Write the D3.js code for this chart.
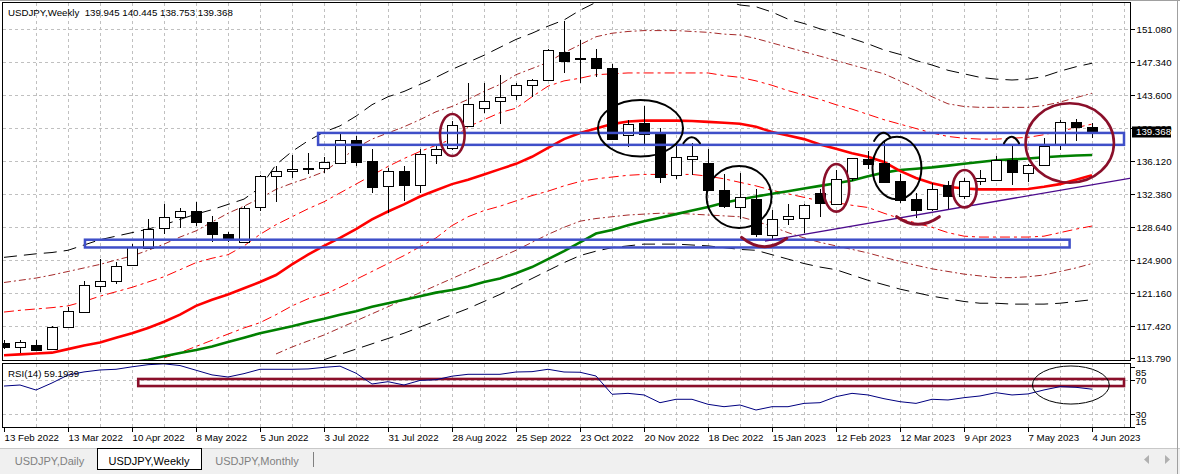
<!DOCTYPE html>
<html>
<head>
<meta charset="utf-8">
<script src="https://cdn.jsdelivr.net/npm/d3@7"></script>
<style>
body { margin: 0; background: #fff; }
text { font-family: "Liberation Sans", Arial, sans-serif; font-size: 9.7px; fill: #000; }
.tab { font-size: 11px; }
</style>
</head>
<body>
<svg id="chart" width="1180" height="474"></svg>
<script>
// weekly bars, 13 Feb 2022 .. 4 Jun 2023
var openP = [115.5,115.0,115.3,114.85,117.3,119.07,122.0,122.57,124.3,126.3,
  128.5,129.75,130.5,129.24,127.9,126.98,130.85,134.4,135.0,135.3,
  135.35,135.9,138.5,136.1,133.35,135.0,133.4,136.85,137.6,140.05,
  142.12,142.9,143.6,144.7,145.28,148.52,147.8,147.77,146.7,139.07,
  140.38,139.3,134.5,136.4,135.9,132.86,130.96,131.87,127.77,129.5,
  129.73,132.5,131.27,134.2,136.38,135.94,133.87,131.87,130.6,133.42,
  132.1,133.8,134.02,136.2,134.8,135.6,138.1,140.54,139.945];
var highP = [115.8,115.8,115.8,117.4,119.6,122.5,125.06,124.7,126.7,129.5,
  131.3,130.8,131.5,129.9,128.1,131.0,134.55,135.6,136.8,137.0,
  136.6,139.2,138.9,137.5,135.3,135.6,137.5,137.8,140.7,144.95,
  144.95,145.9,144.95,145.4,148.8,151.98,149.8,148.8,147.1,140.8,
  142.3,139.86,137.9,138.2,137.5,134.6,134.8,132.9,130.6,131.2,
  131.2,132.9,135.15,136.5,137.2,138.5,134.6,132.5,133.6,133.8,
  134.15,135.15,136.65,137.8,135.8,138.75,140.8,140.9,140.445];
var lowP = [114.8,114.4,114.65,114.8,117.3,119.0,121.3,122.2,124.2,126.3,
  127.8,128.5,128.7,126.98,126.98,126.9,130.4,131.5,134.2,134.7,
  134.8,135.9,135.5,132.5,130.25,131.6,132.5,135.8,137.4,140.0,
  141.56,140.3,143.06,143.4,145.2,146.07,145.0,145.6,138.5,137.67,
  138.1,133.6,134.1,134.5,132.7,130.8,129.5,127.5,127.2,128.9,
  128.0,129.8,131.2,133.8,135.25,133.7,131.4,129.7,130.5,130.7,
  131.8,133.35,133.9,133.45,133.7,135.5,137.4,138.35,138.753];
var closeP = [115.1,115.56,114.75,117.35,119.07,122.1,122.57,124.26,126.34,128.45,
  129.75,130.47,129.24,127.87,127.4,130.82,134.4,135.0,135.2,135.15,
  136.0,138.5,136.0,133.15,135.0,133.4,136.9,137.5,140.2,142.57,
  142.91,143.37,144.7,145.3,148.67,147.5,147.7,146.6,138.65,140.31,
  139.14,134.3,136.55,136.7,132.86,131.0,132.06,127.88,129.58,129.87,
  131.16,131.4,134.1,136.46,135.78,133.83,131.76,130.63,132.9,132.13,
  133.8,134.15,136.25,134.8,135.68,137.78,140.54,139.93,139.368];

// moving averages
var maRed = [114.1,114.2,114.3,114.4,114.8,115.2,115.55,116.1,116.6,117.2,
  117.9,118.7,119.7,120.4,121.0,121.7,122.4,123.2,124.4,125.5,
  126.5,127.4,128.4,129.5,130.4,131.2,132.1,132.8,133.5,134.0,
  134.6,135.2,135.8,136.6,137.6,138.6,139.3,139.8,140.3,140.6,
  140.7,140.7,140.7,140.65,140.55,140.45,140.35,140.0,139.4,139.0,
  138.6,138.0,137.5,137.0,136.6,136.0,135.0,134.2,133.6,133.2,
  133.0,132.9,132.9,132.9,132.95,133.2,133.5,134.0,134.5];
var maGreen = [null,null,null,null,null,null,null,113.0,113.3,113.6,
  114.0,114.35,114.7,115.1,115.6,116.1,116.6,117.0,117.4,117.85,
  118.25,118.7,119.1,119.6,120.0,120.4,120.8,121.2,121.5,121.9,
  122.4,122.8,123.4,124.1,125.0,125.9,126.9,127.9,128.3,128.85,
  129.3,129.7,130.1,130.5,130.9,131.4,131.75,132.1,132.4,132.7,
  133.0,133.3,133.6,133.9,134.4,134.8,135.1,135.25,135.4,135.6,
  135.8,136.0,136.2,136.3,136.4,136.55,136.65,136.75,136.8];

// envelope bands
var bandUp3 = [125.2,125.4,125.6,125.75,126.0,126.6,127.2,127.6,128.0,128.4,
  128.9,129.5,130.1,130.6,131.2,131.8,133.1,135.7,137.2,138.4,
  139.4,140.1,141.2,142.5,143.4,144.0,144.8,145.6,146.5,147.3,
  148.1,149.0,149.9,150.6,151.4,152.1,153.2,154.1,154.8,155.2,
  155.4,155.5,155.4,155.1,154.7,154.3,153.8,153.6,153.0,152.2,
  151.7,151.1,150.6,150.0,149.4,148.7,148.2,147.5,147.0,146.4,
  146.0,145.6,145.4,145.3,145.4,145.7,146.3,146.8,147.2];
var bandUp2 = [122.35,122.6,122.85,123.2,123.6,124.0,124.4,124.9,125.35,126.0,
  126.7,127.5,128.2,129.2,130.2,131.0,131.9,132.9,133.6,134.2,
  134.9,136.2,137.6,138.6,139.3,140.0,140.8,141.7,142.3,143.1,
  144.0,144.8,145.9,146.6,147.3,148.4,149.3,150.2,150.6,150.8,
  150.9,150.9,150.9,150.8,150.7,150.5,150.4,150.0,149.5,149.0,
  148.5,148.0,147.5,147.0,146.5,146.0,145.2,144.4,143.4,142.6,
  142.3,142.2,142.2,142.2,142.2,142.4,142.8,143.3,143.8];
var bandUp1 = [119.0,119.2,119.35,119.5,119.7,120.2,120.8,121.3,121.8,122.4,
  123.0,123.8,124.6,125.1,125.5,126.5,127.8,128.9,129.8,130.7,
  131.5,132.5,133.5,134.5,135.5,136.4,137.2,137.9,138.6,140.0,
  140.8,141.6,142.1,143.4,144.6,145.2,145.5,145.9,146.0,146.1,
  146.1,146.1,146.1,146.1,146.1,145.8,145.6,145.2,144.7,144.1,
  143.6,143.1,142.5,142.0,141.4,140.8,140.3,139.8,139.3,138.9,
  138.7,138.6,138.6,138.7,138.8,139.1,139.5,139.9,140.3];
var bandLo1 = [null,null,null,null,null,null,null,null,null,null,
  113.8,114.4,115.1,115.8,116.5,117.2,117.8,118.7,119.7,120.5,
  121.0,121.8,122.7,123.6,124.5,125.4,126.4,127.4,128.8,129.8,
  130.5,131.0,131.6,132.2,132.7,133.3,133.8,134.1,134.3,134.5,
  134.6,134.6,134.6,134.6,134.4,134.1,133.7,133.3,132.8,132.4,
  132.0,131.6,131.4,131.1,130.85,130.2,129.6,129.1,128.6,128.0,
  127.6,127.5,127.5,127.5,127.5,127.6,128.0,128.4,128.75];
var bandLo2 = [null,null,null,null,null,null,null,null,null,null,
  null,null,null,null,null,null,null,114.25,115.04,115.72,
  116.4,117.2,118.0,118.8,119.6,120.4,121.2,122.0,122.8,123.6,
  124.4,125.2,126.0,126.9,127.8,128.6,129.3,129.6,129.8,130.0,
  130.1,130.2,130.2,130.1,130.0,129.9,129.8,129.3,128.7,128.0,
  127.4,126.9,126.5,126.1,125.7,125.2,124.75,124.3,123.9,123.6,
  123.3,123.1,122.9,122.9,123.0,123.2,123.6,124.0,124.5];
var bandLo3 = [null,null,null,null,null,null,null,null,null,null,
  null,null,null,null,null,null,null,null,null,null,
  113.6,114.2,114.8,115.4,116.0,116.6,117.3,118.0,118.7,119.4,
  120.2,121.0,121.9,122.8,123.7,124.6,125.4,125.9,126.3,126.5,
  126.7,126.7,126.7,126.6,126.5,126.3,126.1,126.0,125.5,125.0,
  124.5,124.1,123.8,123.2,122.6,122.1,121.6,121.2,120.8,120.5,
  120.2,120.0,120.0,119.9,119.9,119.9,120.0,120.2,120.4];

// RSI(14)
var rsiVals = [62.9,64.1,58.2,66.5,75.9,79.5,81.8,82.6,85.5,88,
  89,87,81.5,76,73.5,77.5,82.6,82.6,82.6,83,
  84.9,86.3,78,65.3,68,64.1,69.5,70.3,74.5,76.7,
  76.7,76.7,79.4,79.8,82.6,79.4,79.1,74.7,53.2,54.3,
  52.4,43.3,47.3,47.3,41.4,38.6,40.6,34.7,38.6,38.6,
  42.5,43.3,50.4,54.3,52.4,48,44.5,42.5,47.3,46.5,
  49.2,51.2,55.1,52.4,53.6,58.3,62.2,61.4,59.19];

var dateLabels = ["13 Feb 2022","13 Mar 2022","10 Apr 2022","8 May 2022","5 Jun 2022",
  "3 Jul 2022","31 Jul 2022","28 Aug 2022","25 Sep 2022","23 Oct 2022","20 Nov 2022",
  "18 Dec 2022","15 Jan 2023","12 Feb 2023","12 Mar 2023","9 Apr 2023","7 May 2023","4 Jun 2023"];
var priceTicks = [151.08,147.34,143.60,139.86,136.12,132.38,128.64,124.90,121.16,117.42,113.79];
var rsiTicks = [85,70,30,15];
var lastPrice = 139.368;

// hand drawn objects (bar index / price coordinates)
var zones = [
  {i0: 19.63, i1: 70, p0: 139.3, p1: 137.95},
  {i0: 5.06, i1: 66.6, p0: 127.2, p1: 126.32}
];
var rings = [
  {i: 28.02, p: 139.07, ri: 0.77, rp: 2.38, c: "#8a0f2a", w: 2.6},
  {i: 39.78, p: 139.83, ri: 2.66, rp: 3.21, c: "#000", w: 2},
  {i: 45.94, p: 132.04, ri: 2.03, rp: 3.51, c: "#000", w: 2},
  {i: 52.02, p: 133.08, ri: 0.81, rp: 2.7, c: "#8a0f2a", w: 2.6},
  {i: 55.81, p: 135.33, ri: 1.53, rp: 3.55, c: "#000", w: 2},
  {i: 60.04, p: 132.98, ri: 0.75, rp: 2.12, c: "#8a0f2a", w: 2.6},
  {i: 66.61, p: 138.16, ri: 2.76, rp: 4.5, c: "#8a0f2a", w: 2.6}
];
var arcs = [
  {i0: 42.46, i1: 43.5, p0: 138.13, p1: 138.13, pk: 138.81, c: "#000", w: 2},
  {i0: 54.38, i1: 55.38, p0: 138.39, p1: 138.84, pk: 139.29, c: "#000", w: 2},
  {i0: 62.5, i1: 63.44, p0: 138.13, p1: 138.13, pk: 138.88, c: "#000", w: 2},
  {i0: 46.1, i1: 48.92, p0: 127.47, p1: 127.36, pk: 126.41, c: "#8a0f2a", w: 3},
  {i0: 55.79, i1: 58.46, p0: 129.81, p1: 129.81, pk: 128.95, c: "#8a0f2a", w: 3}
];
var trend = {i0: 47.56, p0: 127.05, i1: 70.44, p1: 134.19};
var rsiZone = {i0: 8.39, i1: 70, v0: 71.2, v1: 62.9};
var rsiRing = {i: 66.68, v: 64.1, ri: 2.4, rv: 22.4};

var svg = d3.select("#chart");
var plotL = 3, plotR = 1131, mainT = 3, mainB = 361, rsiT = 364, rsiB = 428;

var x = d3.scaleLinear().domain([0, 68]).range([4, 1092]);
var y = d3.scaleLinear().domain([117.42, 151.08]).range([326, 29]);
var yr = d3.scaleLinear().domain([30, 70]).range([414, 380]);

svg.append("rect").attr("width", 1180).attr("height", 474).attr("fill", "#fff");

var defs = svg.append("defs");
defs.append("clipPath").attr("id", "clipMain").append("rect")
  .attr("x", plotL).attr("y", mainT).attr("width", plotR - plotL).attr("height", mainB - mainT);
defs.append("clipPath").attr("id", "clipRsi").append("rect")
  .attr("x", plotL).attr("y", rsiT).attr("width", plotR - plotL).attr("height", rsiB - rsiT);

// grid
var gridX = d3.range(2, 71, 2);
function grid(g, top, bottom, levels, sc) {
  g.selectAll(".vg").data(gridX).join("line")
    .attr("x1", function(d) { return Math.round(x(d)) + 0.5; })
    .attr("x2", function(d) { return Math.round(x(d)) + 0.5; })
    .attr("y1", top).attr("y2", bottom);
  g.selectAll(".hg").data(levels).join("line").attr("class", "hg")
    .attr("x1", plotL).attr("x2", plotR)
    .attr("y1", function(d) { return Math.round(sc(d)) + 0.5; })
    .attr("y2", function(d) { return Math.round(sc(d)) + 0.5; });
  g.selectAll("line").attr("stroke", "#c0c0c0").attr("stroke-dasharray", "3,3")
    .attr("shape-rendering", "crispEdges");
}
grid(svg.append("g"), mainT, mainB, priceTicks.slice(0, 10), y);
grid(svg.append("g"), rsiT, rsiB, [70, 30], yr);

var main = svg.append("g").attr("clip-path", "url(#clipMain)");

function series(vals) {
  return d3.line()
    .defined(function(d) { return d != null; })
    .x(function(d, i) { return x(i); })
    .y(function(d) { return y(d); })(vals);
}

var bands = [
  {v: bandUp3, c: "#000", dash: "13,7"},
  {v: bandLo3, c: "#000", dash: "13,7"},
  {v: bandUp2, c: "#a52a2a", dash: "7,3,2,3"},
  {v: bandLo2, c: "#a52a2a", dash: "7,3,2,3"},
  {v: bandUp1, c: "#ff0000", dash: "10,4,3,4"},
  {v: bandLo1, c: "#ff0000", dash: "10,4,3,4"}
];
main.selectAll(".band").data(bands).join("path")
  .attr("d", function(d) { return series(d.v); })
  .attr("fill", "none").attr("stroke", function(d) { return d.c; })
  .attr("stroke-width", 1).attr("stroke-dasharray", function(d) { return d.dash; });

main.append("path").attr("d", series(maGreen)).attr("fill", "none")
  .attr("stroke", "#008000").attr("stroke-width", 2.6);
main.append("path").attr("d", series(maRed)).attr("fill", "none")
  .attr("stroke", "#ff0000").attr("stroke-width", 2.6);

// candles
var bars = d3.range(openP.length);
var cg = main.append("g").attr("shape-rendering", "crispEdges");
cg.selectAll("line").data(bars).join("line")
  .attr("x1", function(i) { return Math.round(x(i)) + 0.5; })
  .attr("x2", function(i) { return Math.round(x(i)) + 0.5; })
  .attr("y1", function(i) { return y(highP[i]); })
  .attr("y2", function(i) { return y(lowP[i]); })
  .attr("stroke", "#000");
cg.selectAll("rect").data(bars).join("rect")
  .attr("x", function(i) { return Math.round(x(i)) - 5 + 0.5; })
  .attr("width", 10)
  .attr("y", function(i) { return Math.round(y(Math.max(openP[i], closeP[i]))) + 0.5; })
  .attr("height", function(i) { return Math.max(1, Math.round(Math.abs(y(openP[i]) - y(closeP[i])))); })
  .attr("fill", function(i) { return closeP[i] >= openP[i] ? "#fff" : "#000"; })
  .attr("stroke", "#000");

// objects
main.selectAll(".zone").data(zones).join("rect")
  .attr("x", function(d) { return x(d.i0); })
  .attr("width", function(d) { return x(d.i1) - x(d.i0); })
  .attr("y", function(d) { return y(d.p0); })
  .attr("height", function(d) { return y(d.p1) - y(d.p0); })
  .attr("fill", "none").attr("stroke", "#3f4fc8").attr("stroke-width", 2.5);

main.append("line")
  .attr("x1", x(trend.i0)).attr("y1", y(trend.p0))
  .attr("x2", x(trend.i1)).attr("y2", y(trend.p1))
  .attr("stroke", "#4b0a8c").attr("stroke-width", 1.3);

main.selectAll(".ring").data(rings).join("ellipse")
  .attr("cx", function(d) { return x(d.i); })
  .attr("cy", function(d) { return y(d.p); })
  .attr("rx", function(d) { return x(d.i + d.ri) - x(d.i); })
  .attr("ry", function(d) { return y(d.p - d.rp) - y(d.p); })
  .attr("fill", "none").attr("stroke", function(d) { return d.c; })
  .attr("stroke-width", function(d) { return d.w; });

main.selectAll(".arc").data(arcs).join("path")
  .attr("d", function(d) {
    var p = d3.path();
    var x0 = x(d.i0), x1 = x(d.i1), y0 = y(d.p0), y1 = y(d.p1);
    p.moveTo(x0, y0);
    p.quadraticCurveTo((x0 + x1) / 2, 2 * y(d.pk) - (y0 + y1) / 2, x1, y1);
    return p.toString();
  })
  .attr("fill", "none").attr("stroke", function(d) { return d.c; })
  .attr("stroke-width", function(d) { return d.w; }).attr("stroke-linecap", "round");

// RSI panel
var rg = svg.append("g").attr("clip-path", "url(#clipRsi)");
rg.append("rect")
  .attr("x", x(rsiZone.i0)).attr("width", x(rsiZone.i1) - x(rsiZone.i0))
  .attr("y", yr(rsiZone.v0)).attr("height", yr(rsiZone.v1) - yr(rsiZone.v0))
  .attr("fill", "none").attr("stroke", "#8a0f2a").attr("stroke-width", 2.6);
rg.append("path")
  .attr("d", d3.line().x(function(d, i) { return x(i); }).y(function(d) { return yr(d); })(rsiVals))
  .attr("fill", "none").attr("stroke", "#000080").attr("stroke-width", 1);
rg.append("ellipse")
  .attr("cx", x(rsiRing.i)).attr("cy", yr(rsiRing.v))
  .attr("rx", x(rsiRing.i + rsiRing.ri) - x(rsiRing.i))
  .attr("ry", yr(rsiRing.v - rsiRing.rv) - yr(rsiRing.v))
  .attr("fill", "none").attr("stroke", "#000").attr("stroke-width", 1);

// frames
svg.append("line").attr("x1", 0).attr("x2", 1180).attr("y1", 0.5).attr("y2", 0.5).attr("stroke", "#a0a0a0");
svg.append("rect").attr("x", plotL - 0.5).attr("y", mainT - 0.5)
  .attr("width", plotR - plotL).attr("height", mainB - mainT)
  .attr("fill", "none").attr("stroke", "#000").attr("shape-rendering", "crispEdges");
svg.append("rect").attr("x", plotL - 0.5).attr("y", rsiT - 0.5)
  .attr("width", plotR - plotL).attr("height", rsiB - rsiT)
  .attr("fill", "none").attr("stroke", "#000").attr("shape-rendering", "crispEdges");

// axes
var ya = svg.append("g").attr("transform", "translate(" + (plotR - 0.5) + ",0)")
  .call(d3.axisRight(y).tickValues(priceTicks).tickFormat(d3.format(".3f")).tickSize(4).tickPadding(2));
var ra = svg.append("g").attr("transform", "translate(" + (plotR - 0.5) + ",0)")
  .call(d3.axisRight(yr).tickValues(rsiTicks).tickFormat(d3.format("d")).tickSize(4).tickPadding(1));
ra.selectAll(".tick text").attr("dy", function(d) { return d === 85 ? "0.8em" : (d === 15 ? "-0.2em" : "0.32em"); });
var xa = svg.append("g").attr("transform", "translate(0," + (rsiB - 0.5) + ")")
  .call(d3.axisBottom(x).tickValues(d3.range(0, 69, 4))
    .tickFormat(function(d) { return dateLabels[d / 4]; }).tickSize(4).tickPadding(3));
xa.selectAll(".tick text").attr("text-anchor", "start").attr("x", 0);
[ya, ra, xa].forEach(function(a) {
  a.select(".domain").remove();
  a.selectAll("text").attr("font-family", null).attr("font-size", null).attr("fill", "#000");
  a.selectAll("line").attr("stroke", "#000").attr("shape-rendering", "crispEdges");
});

// last price marker
var lp = svg.append("g").attr("transform", "translate(" + plotR + "," + Math.round(y(lastPrice)) + ")");
lp.append("rect").attr("x", 1).attr("y", -5.5).attr("width", 39).attr("height", 11).attr("fill", "#000");
lp.append("text").attr("x", 5).attr("dy", "0.34em").attr("fill", "#fff").style("fill", "#fff")
  .text(d3.format(".3f")(lastPrice));

// captions
svg.append("text").attr("x", 8).attr("y", 15.5).attr("xml:space", "preserve")
  .style("white-space", "pre")
  .text("USDJPY,Weekly  " + [openP[68], highP[68], lowP[68], closeP[68]].map(d3.format(".3f")).join(" "));
svg.append("text").attr("x", 8).attr("y", 377).text("RSI(14) " + d3.format(".4f")(59.1939));

// tab strip
var tabs = [{t: "USDJPY,Daily", x0: 2, x1: 97}, {t: "USDJPY,Weekly", x0: 97, x1: 201, on: true},
  {t: "USDJPY,Monthly", x0: 201, x1: 313}];
svg.append("rect").attr("x", 0).attr("y", 448).attr("width", 1180).attr("height", 26).attr("fill", "#f0f0f0");
svg.append("line").attr("x1", 0).attr("x2", 1180).attr("y1", 448.5).attr("y2", 448.5).attr("stroke", "#c8c8c8");
var tg = svg.append("g").selectAll("g").data(tabs).join("g");
tg.filter(function(d) { return d.on; }).append("rect")
  .attr("x", function(d) { return d.x0 + 0.5; }).attr("y", 448.5)
  .attr("width", function(d) { return d.x1 - d.x0; }).attr("height", 21)
  .attr("fill", "#fff").attr("stroke", "#000");
tg.append("text").attr("class", "tab")
  .attr("x", function(d) { return (d.x0 + d.x1) / 2; }).attr("y", 464.5)
  .attr("text-anchor", "middle")
  .style("fill", function(d) { return d.on ? "#000" : "#808080"; })
  .text(function(d) { return d.t; });
svg.append("line").attr("x1", 313.5).attr("x2", 313.5).attr("y1", 452).attr("y2", 467).attr("stroke", "#808080");
svg.append("path").attr("d", "M1144,459.5L1149,455L1149,464Z").attr("fill", "#b0b0b0");
svg.append("path").attr("d", "M1170,459.5L1165,455L1165,464Z").attr("fill", "#b0b0b0");
svg.append("line").attr("x1", 1177.5).attr("x2", 1177.5).attr("y1", 0).attr("y2", 474).attr("stroke", "#a0a0a0");
</script>
</body>
</html>
